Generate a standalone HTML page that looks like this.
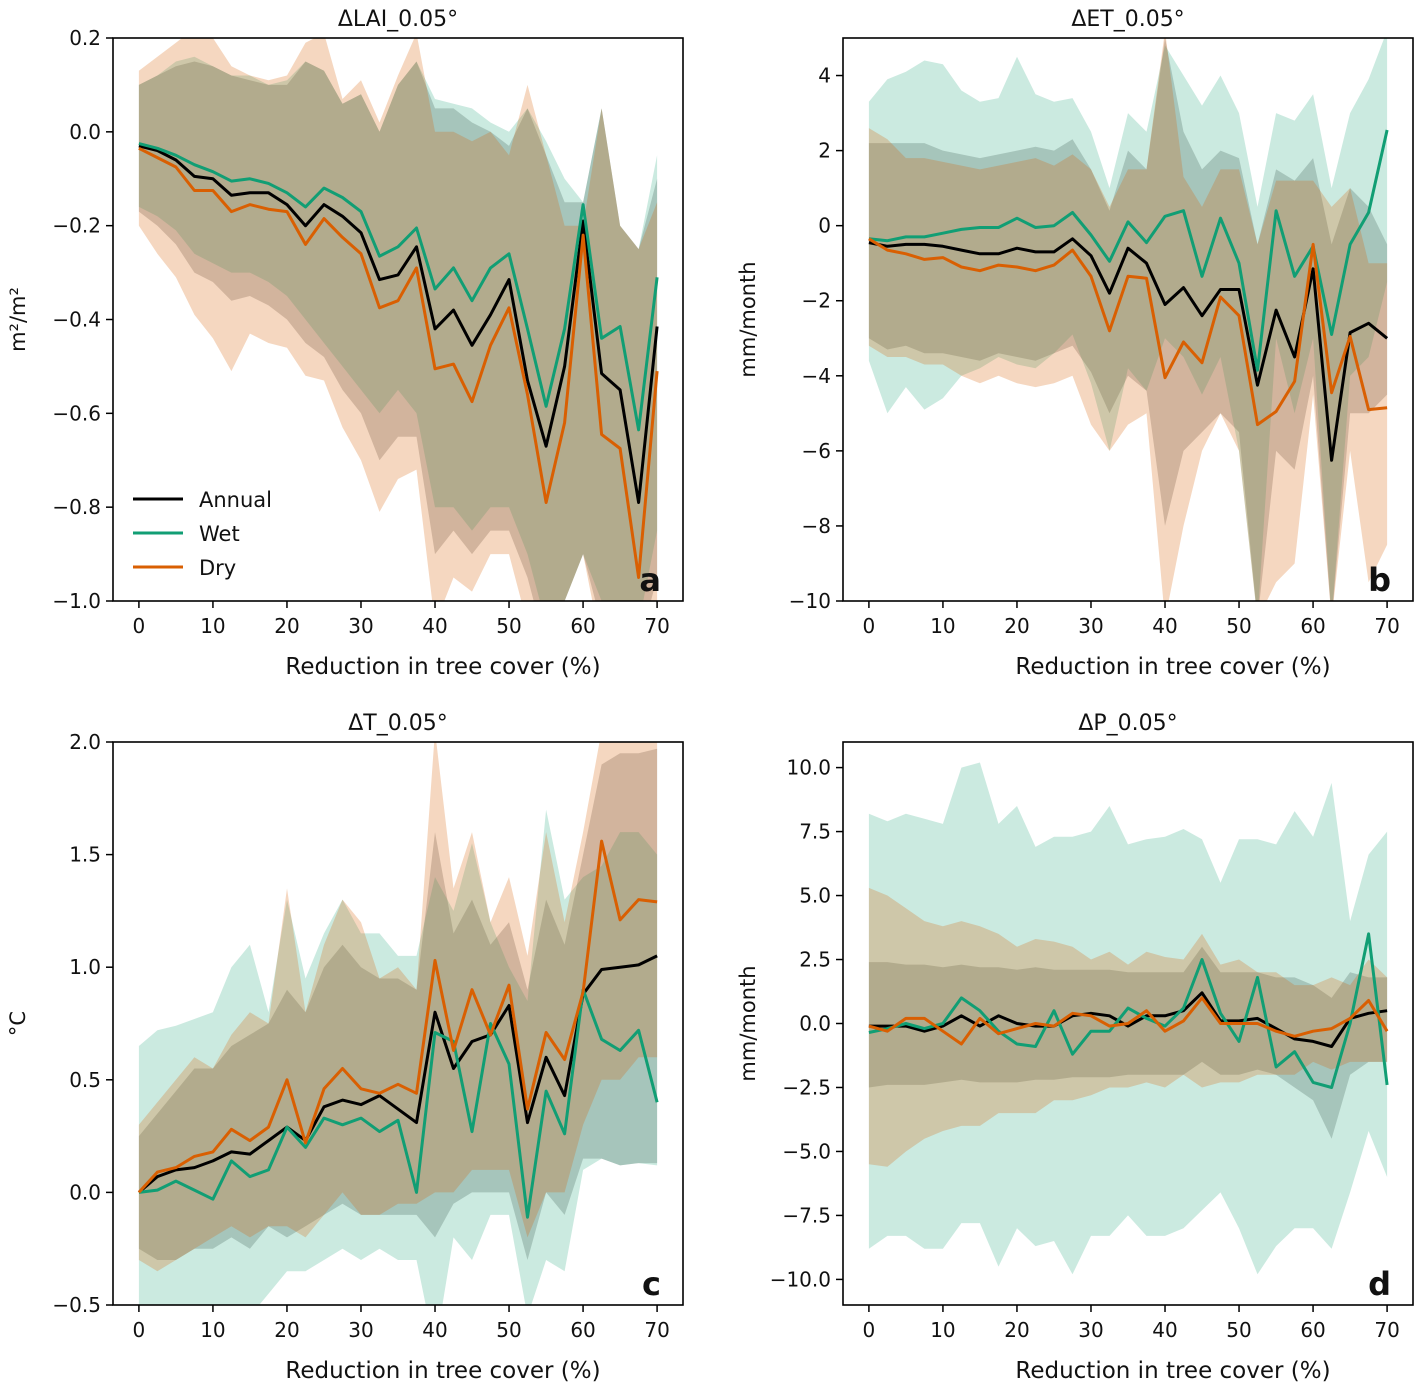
<!DOCTYPE html>
<html><head><meta charset="utf-8"><style>
body{margin:0;background:#fff;}
svg text{font-family:"DejaVu Sans","Liberation Sans",sans-serif;fill:#111;}
</style></head><body>
<svg id="fig" xmlns="http://www.w3.org/2000/svg" width="1418" height="1385" viewBox="0 0 1418 1385"></svg>
<script>
const xs = [0,2.5,5,7.5,10,12.5,15,17.5,20,22.5,25,27.5,30,32.5,35,37.5,40,42.5,45,47.5,50,52.5,55,57.5,60,62.5,65,67.5,70];
const xTicks = [0,10,20,30,40,50,60,70];
// Panel a
const aAnnual=[-0.03,-0.04,-0.06,-0.095,-0.10,-0.135,-0.13,-0.13,-0.155,-0.20,-0.155,-0.18,-0.215,-0.315,-0.305,-0.245,-0.42,-0.38,-0.455,-0.39,-0.315,-0.53,-0.67,-0.5,-0.19,-0.515,-0.55,-0.79,-0.415];
const aWet=[-0.025,-0.035,-0.05,-0.07,-0.085,-0.105,-0.1,-0.11,-0.13,-0.16,-0.12,-0.14,-0.17,-0.265,-0.245,-0.205,-0.335,-0.29,-0.36,-0.29,-0.26,-0.42,-0.585,-0.42,-0.155,-0.44,-0.415,-0.635,-0.31];
const aDry=[-0.035,-0.055,-0.075,-0.125,-0.125,-0.17,-0.155,-0.165,-0.17,-0.24,-0.185,-0.225,-0.26,-0.375,-0.36,-0.29,-0.505,-0.495,-0.575,-0.455,-0.375,-0.56,-0.79,-0.62,-0.22,-0.645,-0.675,-0.95,-0.51];
const aAnnualHi=[0.1,0.12,0.14,0.15,0.14,0.12,0.11,0.10,0.10,0.15,0.13,0.06,0.08,0.0,0.1,0.15,0.05,0.05,0.02,0.0,-0.03,0.05,-0.05,-0.15,-0.15,0.05,-0.2,-0.25,-0.1];
const aAnnualLo=[-0.17,-0.2,-0.24,-0.3,-0.32,-0.36,-0.35,-0.37,-0.4,-0.45,-0.48,-0.55,-0.6,-0.7,-0.65,-0.65,-0.9,-0.85,-0.9,-0.85,-0.85,-0.95,-1.1,-1.0,-0.9,-1.05,-1.05,-1.1,-0.95];
const aWetHi=[0.1,0.12,0.15,0.16,0.14,0.12,0.12,0.10,0.11,0.15,0.13,0.06,0.08,0.0,0.1,0.15,0.07,0.06,0.05,0.02,0.0,0.05,-0.02,-0.1,-0.15,0.05,-0.2,-0.25,-0.05];
const aWetLo=[-0.16,-0.18,-0.21,-0.26,-0.28,-0.3,-0.3,-0.32,-0.35,-0.4,-0.45,-0.5,-0.55,-0.6,-0.55,-0.6,-0.8,-0.8,-0.85,-0.8,-0.8,-0.9,-1.05,-1,-0.9,-1.0,-1.0,-1.05,-0.85];
const aDryHi=[0.13,0.16,0.19,0.22,0.2,0.14,0.12,0.11,0.12,0.19,0.21,0.07,0.11,0.02,0.12,0.21,0.0,0.0,-0.02,0.0,-0.05,0.1,-0.05,-0.2,-0.2,0.05,-0.2,-0.25,-0.15];
const aDryLo=[-0.2,-0.26,-0.31,-0.39,-0.44,-0.51,-0.43,-0.45,-0.46,-0.52,-0.53,-0.63,-0.70,-0.81,-0.74,-0.72,-1.05,-0.95,-0.98,-0.90,-0.90,-1.05,-1.1,-1.0,-0.9,-1.1,-1.1,-1.1,-1.0];
const aTicks=[0.2,0.0,-0.2,-0.4,-0.6,-0.8,-1.0];
// Panel b
const bAnnual=[-0.45,-0.55,-0.5,-0.5,-0.55,-0.65,-0.75,-0.75,-0.6,-0.7,-0.7,-0.35,-0.8,-1.8,-0.6,-1.0,-2.1,-1.65,-2.4,-1.7,-1.7,-4.25,-2.25,-3.5,-1.15,-6.25,-2.85,-2.6,-3.0];
const bWet=[-0.35,-0.4,-0.3,-0.3,-0.2,-0.1,-0.05,-0.05,0.2,-0.05,0.0,0.35,-0.25,-0.95,0.1,-0.45,0.25,0.4,-1.35,0.2,-1.0,-3.85,0.4,-1.35,-0.55,-2.9,-0.5,0.35,2.55];
const bDry=[-0.35,-0.65,-0.75,-0.9,-0.85,-1.1,-1.2,-1.05,-1.1,-1.2,-1.05,-0.65,-1.35,-2.8,-1.35,-1.4,-4.05,-3.1,-3.65,-1.9,-2.4,-5.3,-4.95,-4.15,-0.5,-4.45,-2.95,-4.9,-4.85];
const bAnnualHi=[2.2,2.2,2.2,2.2,2.0,1.9,1.8,1.9,2.0,2.1,2.0,2.3,1.5,0.4,2.0,1.5,5,2.5,1.5,2.0,1.8,-0.5,1.5,1.2,1.8,-0.5,1.0,0.5,-0.5];
const bAnnualLo=[-3.0,-3.3,-3.2,-3.4,-3.4,-3.5,-3.6,-3.4,-3.5,-3.6,-3.4,-3.2,-3.9,-5,-4,-4.4,-8,-6,-5.5,-5,-5.5,-10.5,-6,-6.5,-4,-10.5,-5,-5,-4.5];
const bWetHi=[3.3,3.9,4.1,4.4,4.3,3.6,3.3,3.4,4.5,3.5,3.3,3.4,2.5,1.0,3.0,2.5,4.8,4.0,3.2,4.0,3.0,0.5,3.0,2.8,3.5,1.0,3.0,3.9,5.2];
const bWetLo=[-3.6,-5,-4.3,-4.9,-4.6,-4,-3.8,-3.5,-3.7,-3.8,-3.4,-2.9,-4.2,-6,-3.8,-4.4,-3,-3.5,-4.5,-3.5,-6,-10.5,-3,-5,-3,-10.5,-4,-3.5,-1.5];
const bDryHi=[2.6,2.3,1.8,1.8,1.7,1.6,1.5,1.6,1.7,1.8,1.6,1.9,1.5,0.5,1.5,1.5,5.2,1.3,0.5,1.5,1.5,-0.5,1.2,1.2,1.2,0.5,1.0,-1.0,-1.0];
const bDryLo=[-3.2,-3.5,-3.5,-3.7,-3.7,-4,-4.2,-4.0,-4.2,-4.3,-4.2,-4,-5.3,-6,-5.3,-5,-10.5,-8,-6,-5,-6,-10.5,-9.5,-9,-4.5,-10.5,-6,-9.5,-8.5];
const bTicks=[4,2,0,-2,-4,-6,-8,-10];
// Panel c
const cAnnual=[0,0.07,0.1,0.11,0.14,0.18,0.17,0.23,0.29,0.23,0.38,0.41,0.39,0.43,0.37,0.31,0.8,0.55,0.67,0.7,0.83,0.31,0.6,0.43,0.88,0.99,1.0,1.01,1.05];
const cWet=[0,0.01,0.05,0.01,-0.03,0.14,0.07,0.1,0.29,0.2,0.33,0.3,0.33,0.27,0.32,0.0,0.71,0.67,0.27,0.75,0.57,-0.11,0.45,0.26,0.9,0.68,0.63,0.72,0.4];
const cDry=[0,0.09,0.11,0.16,0.18,0.28,0.23,0.29,0.5,0.22,0.46,0.55,0.46,0.44,0.48,0.44,1.03,0.63,0.9,0.7,0.92,0.37,0.71,0.59,0.89,1.56,1.21,1.3,1.29];
const cAnnualHi=[0.25,0.35,0.45,0.55,0.55,0.65,0.7,0.75,0.9,0.8,1.0,1.1,1.0,0.95,0.95,0.9,1.6,1.15,1.3,1.1,1.2,0.9,1.3,1.1,1.5,1.9,1.95,1.95,1.97];
const cAnnualLo=[-0.25,-0.3,-0.3,-0.25,-0.25,-0.2,-0.25,-0.15,-0.2,-0.15,-0.1,-0.05,-0.1,-0.1,-0.1,-0.1,-0.2,-0.05,0.0,0.0,0.0,-0.3,0.0,-0.1,0.15,0.15,0.12,0.13,0.13];
const cWetHi=[0.65,0.72,0.74,0.77,0.8,1.0,1.1,0.8,1.3,0.95,1.15,1.3,1.15,1.15,1.05,1.05,1.4,1.25,1.55,1.2,1.0,0.85,1.7,1.3,1.4,1.45,1.6,1.6,1.5];
const cWetLo=[-0.55,-0.55,-0.55,-0.55,-0.55,-0.55,-0.55,-0.45,-0.35,-0.35,-0.3,-0.25,-0.3,-0.25,-0.3,-0.3,-0.7,-0.2,-0.3,-0.1,-0.1,-0.55,-0.3,-0.35,0.1,0.15,0.12,0.13,0.12];
const cDryHi=[0.3,0.4,0.5,0.6,0.55,0.7,0.8,0.75,1.35,0.8,1.1,1.3,1.2,0.95,1.0,0.9,2.05,1.35,1.6,1.2,1.4,1.05,1.6,1.2,1.6,2.05,2.05,2.05,2.05];
const cDryLo=[-0.3,-0.35,-0.3,-0.25,-0.2,-0.15,-0.2,-0.15,-0.15,-0.2,-0.1,0.0,-0.1,-0.1,-0.05,-0.05,0.0,0.0,0.1,0.1,0.1,-0.2,0.0,0.0,0.3,0.5,0.5,0.6,0.6];
const cTicks=[2.0,1.5,1.0,0.5,0.0,-0.5];
// Panel d
const dAnnual=[-0.1,-0.1,-0.1,-0.3,-0.1,0.3,-0.1,0.3,0.0,-0.1,-0.1,0.3,0.4,0.3,-0.1,0.3,0.3,0.5,1.2,0.1,0.1,0.2,-0.2,-0.6,-0.7,-0.9,0.2,0.4,0.5];
const dWet=[-0.35,-0.2,0.0,-0.2,0.0,1.0,0.5,-0.3,-0.8,-0.9,0.5,-1.2,-0.3,-0.3,0.6,0.2,-0.1,0.6,2.5,0.4,-0.7,1.8,-1.7,-1.1,-2.3,-2.5,0.0,3.5,-2.4];
const dDry=[-0.1,-0.3,0.2,0.2,-0.3,-0.8,0.2,-0.4,-0.2,0.0,-0.1,0.4,0.3,-0.1,0.0,0.5,-0.3,0.1,1.0,0.0,0.0,0.0,-0.3,-0.5,-0.3,-0.2,0.2,0.9,-0.3];
const dAnnualHi=[2.4,2.4,2.3,2.3,2.2,2.3,2.2,2.2,2.1,2.2,2.1,2.1,2.1,2.1,2.0,2.0,2.0,2.0,3.0,2.0,2.0,2.0,1.8,1.8,1.5,1.0,2.0,1.8,1.8];
const dAnnualLo=[-2.5,-2.4,-2.4,-2.4,-2.3,-2.2,-2.3,-2.3,-2.3,-2.2,-2.2,-2.1,-2.1,-2.1,-2.0,-2.0,-2.0,-2.0,-1.5,-2.0,-2.0,-1.8,-2.0,-2.5,-3.0,-4.5,-2.0,-1.5,-1.5];
const dWetHi=[8.2,7.9,8.2,8.0,7.8,10.0,10.2,7.8,8.5,6.9,7.3,7.3,7.5,8.5,7.0,7.2,7.3,7.6,7.2,5.5,7.2,7.2,7.0,8.3,7.3,9.4,4.0,6.6,7.5];
const dWetLo=[-8.8,-8.3,-8.3,-8.8,-8.8,-7.8,-7.8,-9.5,-8.0,-8.7,-8.5,-9.8,-8.3,-8.3,-7.5,-8.3,-8.3,-8.0,-7.3,-6.6,-8.0,-9.8,-8.7,-8.0,-8.0,-8.8,-6.6,-4.2,-6.0];
const dDryHi=[5.3,5.0,4.5,4.0,3.8,4.0,3.8,3.5,3.0,3.3,3.2,3.0,2.5,2.8,2.3,2.8,2.6,2.5,3.5,2.3,2.5,2.0,2.0,1.5,1.5,1.8,1.5,2.5,1.8];
const dDryLo=[-5.5,-5.6,-5.0,-4.5,-4.2,-4.0,-4.0,-3.5,-3.5,-3.5,-3.0,-3.0,-2.8,-2.5,-2.5,-2.3,-2.5,-2.0,-2.5,-2.3,-2.3,-2.0,-2.0,-2.0,-1.5,-1.8,-1.5,-1.5,-1.5];
const dTicks=[10,7.5,5,2.5,0,-2.5,-5,-7.5,-10];

const NS='http://www.w3.org/2000/svg';
const svg=document.getElementById('fig');
function mk(tag,attrs,parent){const e=document.createElementNS(NS,tag);for(const k in attrs)e.setAttribute(k,attrs[k]);(parent||svg).appendChild(e);return e;}
const fmtMinus=s=>s.replace('-','\u2212');

const panels=[
 {id:'a',x0:113,y0:38,title:'ΔLAI_0.05°',ylab:'m²/m²',ymin:-1.0,ymax:0.2,ticks:aTicks,dec:1,ann:aAnnual,wet:aWet,dry:aDry,aH:aAnnualHi,aL:aAnnualLo,wH:aWetHi,wL:aWetLo,dH:aDryHi,dL:aDryLo,legend:true},
 {id:'b',x0:843,y0:38,title:'ΔET_0.05°',ylab:'mm/month',ymin:-10,ymax:5,ticks:bTicks,dec:0,ann:bAnnual,wet:bWet,dry:bDry,aH:bAnnualHi,aL:bAnnualLo,wH:bWetHi,wL:bWetLo,dH:bDryHi,dL:bDryLo},
 {id:'c',x0:113,y0:742,title:'ΔT_0.05°',ylab:'°C',ymin:-0.5,ymax:2.0,ticks:cTicks,dec:1,ann:cAnnual,wet:cWet,dry:cDry,aH:cAnnualHi,aL:cAnnualLo,wH:cWetHi,wL:cWetLo,dH:cDryHi,dL:cDryLo},
 {id:'d',x0:843,y0:742,title:'ΔP_0.05°',ylab:'mm/month',ymin:-11,ymax:11,ticks:dTicks,dec:1,ann:dAnnual,wet:dWet,dry:dDry,aH:dAnnualHi,aL:dAnnualLo,wH:dWetHi,wL:dWetLo,dH:dDryHi,dL:dDryLo}
];
const W=570,H=563;
const GREEN='#119e74',ORANGE='#d95f02';
panels.forEach(p=>{
  const g=mk('g',{});
  
  
  const X=v=>p.x0+(v+3.5)/77*W;
  const Y=v=>p.y0+(p.ymax-v)/(p.ymax-p.ymin)*H;
  const cp=mk('clipPath',{id:'clip'+p.id},g);
  mk('rect',{x:p.x0,y:p.y0,width:W,height:H},cp);
  const plot=mk('g',{'clip-path':'url(#clip'+p.id+')'},g);
  const band=(hi,lo,fill,op,name)=>{
    let d='M'+xs.map((x,i)=>X(x).toFixed(1)+','+Y(hi[i]).toFixed(1)).join('L');
    for(let i=xs.length-1;i>=0;i--)d+='L'+X(xs[i]).toFixed(1)+','+Y(lo[i]).toFixed(1);
    const e=mk('path',{d:d+'Z',fill:fill,'fill-opacity':op},plot);
    
    
  };
  const line=(vals,col,name)=>{
    const d='M'+xs.map((x,i)=>X(x).toFixed(1)+','+Y(vals[i]).toFixed(1)).join('L');
    const e=mk('path',{d:d,fill:'none',stroke:col,'stroke-width':3,'stroke-linejoin':'round'},plot);
    
    
  };
  band(p.aH,p.aL,'#555','0.28','annual-band');
  band(p.wH,p.wL,GREEN,'0.22','wet-band');
  band(p.dH,p.dL,ORANGE,'0.25','dry-band');
  line(p.ann,'#000','annual-line');
  line(p.wet,GREEN,'wet-line');
  line(p.dry,ORANGE,'dry-line');
  mk('rect',{x:p.x0,y:p.y0,width:W,height:H,fill:'none',stroke:'#000','stroke-width':1.6},g);
  xTicks.forEach(t=>{
    const x=X(t);
    mk('line',{x1:x,x2:x,y1:p.y0+H,y2:p.y0+H+7,stroke:'#000','stroke-width':1.5},g);
    const tx=mk('text',{x:x,y:p.y0+H+32,'text-anchor':'middle','font-size':20},g);
    tx.textContent=t;
    
    
  });
  p.ticks.forEach(t=>{
    const y=Y(t);
    mk('line',{x1:p.x0-7,x2:p.x0,y1:y,y2:y,stroke:'#000','stroke-width':1.5},g);
    const ty=mk('text',{x:p.x0-12,y:y+7,'text-anchor':'end','font-size':20},g);
    ty.textContent=fmtMinus(t.toFixed(p.dec));
    
    
  });
  const tt=mk('text',{x:p.x0+W/2,y:p.y0-12,'text-anchor':'middle','font-size':22},g);
  tt.textContent=p.title;
  
  
  const xl=mk('text',{x:p.x0+W/2+45,y:p.y0+H+73,'text-anchor':'middle','font-size':23},g);
  xl.textContent='Reduction in tree cover (%)';
  
  
  const yx=p.x0-88, yy=p.y0+H/2;
  const yl=mk('text',{x:yx,y:yy,'text-anchor':'middle','font-size':21,transform:'rotate(-90 '+yx+' '+yy+')'},g);
  yl.textContent=p.ylab;
  
  
  const lt=mk('text',{x:p.x0+W-22,y:p.y0+H-10,'text-anchor':'end','font-size':32,'font-weight':'bold'},g);
  lt.textContent=p.id;
  
  
  if(p.legend){
    const items=[['Annual','#000'],['Wet',GREEN],['Dry',ORANGE]];
    items.forEach((it,i)=>{
      const y=499+i*34;
      const lg=mk('g',{},g);
      
      
      mk('line',{x1:133,x2:183,y1:y,y2:y,stroke:it[1],'stroke-width':3},lg);
      const t=mk('text',{x:199,y:y+8,'font-size':21},lg);
      t.textContent=it[0];
    });
  }
});
</script>
</body></html>
